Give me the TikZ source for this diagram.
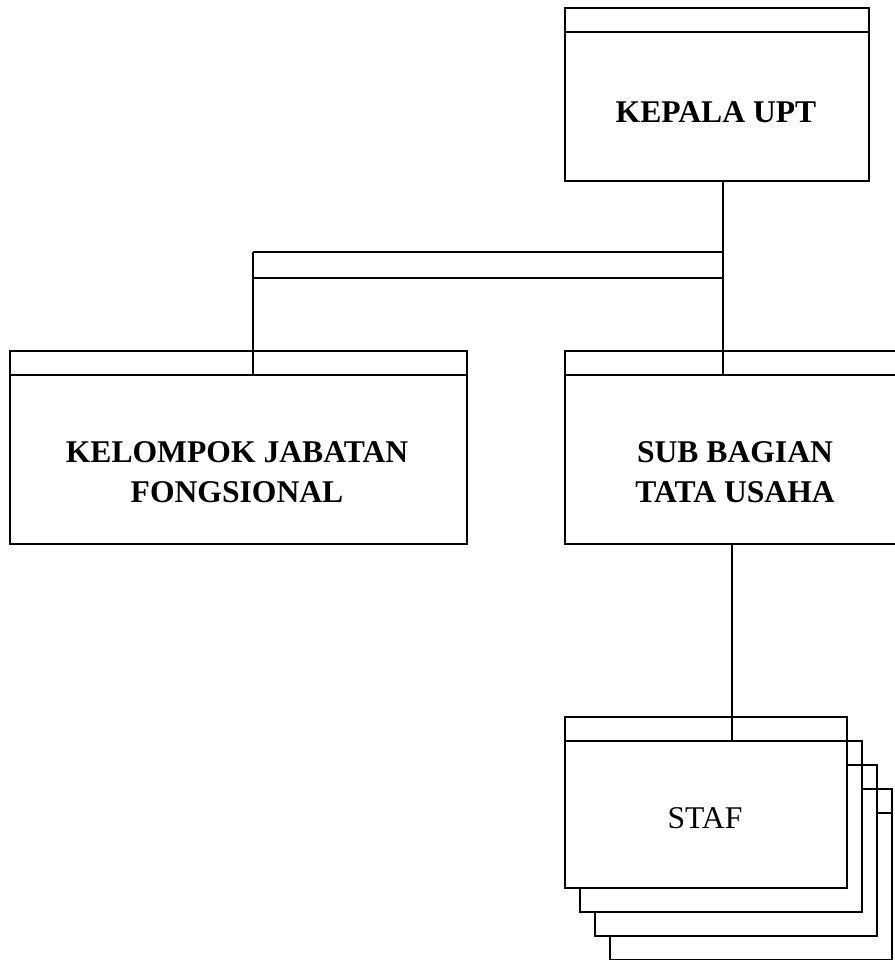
\documentclass[tikz,border=0pt]{standalone}
\usepackage{fontspec}
\setmainfont{Liberation Serif}
\usetikzlibrary{positioning, calc}

\tikzset{
  unit/.style={rectangle, draw, line width=1pt, fill=white, inner sep=0pt, anchor=north west,
    path picture={\draw[line width=1pt] ($(path picture bounding box.north west)+(0,24)$)
      -- ($(path picture bounding box.north east)+(0,24)$);}},
  title/.style={font=\fontsize{18}{22.7}\selectfont\bfseries, align=center},
  plain/.style={font=\fontsize{18}{22.7}\selectfont, align=center},
  link/.style={line width=1pt},
  bar/.style={line width=1.7pt}
}

\begin{document}
\begin{tikzpicture}[x=0.02cm, y=-0.02cm]
\useasboundingbox (0,0) rectangle (895,960);
\clip (0,0) rectangle (895,960);

% boxes
\node[unit, minimum width=304*0.02cm, minimum height=173*0.02cm] (kepala) at (564,7) {};
\node[title] (kepala-t) at (716,112) {KEPALA UPT};

\node[unit, minimum width=457*0.02cm, minimum height=193*0.02cm] (kjf) at (9,350) {};
\node[title] (kjf-t) at (237,472) {KELOMPOK JABATAN\\FONGSIONAL};

\node[unit, minimum width=342*0.02cm, minimum height=193*0.02cm] (sbtu) at (564,350) {};
\node[title] (sbtu-t) at (735,472) {SUB BAGIAN\\TATA USAHA};

% staf, stacked
\foreach \i in {3,2,1}
  \node[unit, minimum width=282*0.02cm, minimum height=171*0.02cm] (staf-\i) at (564+15*\i,716+24*\i) {};
\node[unit, minimum width=282*0.02cm, minimum height=171*0.02cm] (staf) at (564,716) {};
\node[plain] (staf-t) at (705,818) {STAF};

% connectors
\coordinate (top-l) at (253,252);
\coordinate (top-r) at (723,252);
\coordinate (bar-l) at (253,278);
\coordinate (bar-r) at (723,278);
\coordinate (kjf-in) at (253,374);
\coordinate (sbtu-in) at (723,374);
\coordinate (staf-in) at (732,740);

\draw[link] (kepala.south -| sbtu-in) -- (sbtu-in);
\draw[bar] (top-l) -- (top-r);
\draw[link] (bar-l) -- (bar-r);
\draw[link] (top-l) -- (kjf-in);
\draw[link] (sbtu.south -| staf-in) -- (staf-in);

\end{tikzpicture}
\end{document}
